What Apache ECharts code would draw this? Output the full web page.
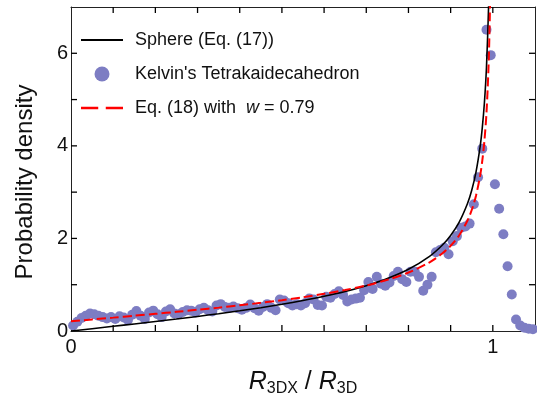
<!DOCTYPE html>
<html>
<head>
<meta charset="utf-8">
<script src="https://cdn.jsdelivr.net/npm/echarts@6/dist/echarts.min.js"></script>
<style>
  html, body { margin: 0; padding: 0; background: #fff; }
  #chart { width: 537px; height: 402px; }
</style>
</head>
<body>
<div id="chart"></div>
<script>
// Histogram of normalised section radii for the Kelvin cell (bin centres)
const kelvinX = [
  0.005, 0.015, 0.025, 0.035, 0.045, 0.055, 0.065, 0.075, 0.085, 0.095,
  0.105, 0.115, 0.125, 0.135, 0.145, 0.155, 0.165, 0.175, 0.185, 0.195,
  0.205, 0.215, 0.225, 0.235, 0.245, 0.255, 0.265, 0.275, 0.285, 0.295,
  0.305, 0.315, 0.325, 0.335, 0.345, 0.355, 0.365, 0.375, 0.385, 0.395,
  0.405, 0.415, 0.425, 0.435, 0.445, 0.455, 0.465, 0.475, 0.485, 0.495,
  0.505, 0.515, 0.525, 0.535, 0.545, 0.555, 0.565, 0.575, 0.585, 0.595,
  0.605, 0.615, 0.625, 0.635, 0.645, 0.655, 0.665, 0.675, 0.685, 0.695,
  0.705, 0.715, 0.725, 0.735, 0.745, 0.755, 0.765, 0.775, 0.785, 0.795,
  0.805, 0.815, 0.825, 0.835, 0.845, 0.855, 0.865, 0.875, 0.885, 0.895,
  0.905, 0.915, 0.925, 0.935, 0.945, 0.955, 0.965, 0.975, 0.985, 0.995,
  1.005, 1.015, 1.025, 1.035, 1.045, 1.055, 1.065, 1.075, 1.085, 1.095
];
const kelvinY = [
  0.12, 0.20, 0.28, 0.33, 0.38, 0.36, 0.33, 0.30, 0.27, 0.30,
  0.26, 0.32, 0.29, 0.24, 0.35, 0.43, 0.33, 0.26, 0.40, 0.44,
  0.36, 0.30, 0.42, 0.47, 0.38, 0.36, 0.41, 0.45, 0.44, 0.40,
  0.47, 0.50, 0.45, 0.42, 0.55, 0.58, 0.52, 0.50, 0.53, 0.49,
  0.46, 0.50, 0.57, 0.49, 0.44, 0.52, 0.58, 0.50, 0.45, 0.68,
  0.66, 0.60, 0.55, 0.58, 0.55, 0.60, 0.70, 0.68, 0.56, 0.55,
  0.74, 0.72, 0.80, 0.86, 0.78, 0.64, 0.68, 0.70, 0.72, 0.88,
  1.06, 0.91, 1.17, 1.02, 0.98, 1.05, 1.19, 1.28, 1.12, 1.06,
  1.28, 1.28, 1.17, 0.87, 1.00, 1.17, 1.70, 1.75, 1.80, 1.66,
  1.94, 2.05, 2.23, 2.26, 2.32, 2.74, 3.32, 3.94, 6.51, 5.96,
  3.17, 2.64, 2.09, 1.40, 0.79, 0.25, 0.12, 0.07, 0.05, 0.04
];

// Sphere, Eq. (17)
const sphereX = [0, 0.05, 0.1, 0.15, 0.2, 0.25, 0.3, 0.35, 0.4, 0.45, 0.5, 0.55, 0.6, 0.65,
  0.7, 0.75, 0.8, 0.85, 0.88, 0.9, 0.92, 0.94, 0.95, 0.96, 0.97, 0.975, 0.98, 0.985, 0.99, 0.992];
const sphereY = [0, 0.050, 0.101, 0.152, 0.204, 0.258, 0.315, 0.374, 0.436, 0.504, 0.577, 0.659, 0.750, 0.855,
  0.980, 1.134, 1.333, 1.614, 1.853, 2.065, 2.347, 2.755, 3.042, 3.429, 3.990, 4.388, 4.925, 5.704, 7.018, 7.84];

// Eq. (18) with w = 0.79
const eq18X = [0, 0.05, 0.1, 0.15, 0.2, 0.25, 0.3, 0.35, 0.4, 0.45, 0.5, 0.55, 0.6, 0.65,
  0.7, 0.75, 0.8, 0.85, 0.88, 0.9, 0.92, 0.94, 0.95, 0.96, 0.97, 0.975, 0.98, 0.985, 0.99, 0.993, 0.995];
const eq18Y = [0.210, 0.250, 0.289, 0.330, 0.371, 0.414, 0.459, 0.505, 0.555, 0.608, 0.666, 0.730, 0.803, 0.886,
  0.984, 1.106, 1.263, 1.485, 1.674, 1.841, 2.064, 2.387, 2.614, 2.919, 3.362, 3.676, 4.101, 4.716, 5.754, 6.85, 8.08];

// Axis ticks and labels
const xTicks = [0.1, 0.2, 0.3, 0.4, 0.5, 0.6, 0.7, 0.8, 0.9, 1.0];
const yTicks = [1, 2, 3, 4, 5, 6];
const xTickLabels = { '0': '0', '1': '1' };
const yTickLabels = { '0': '0', '2': '2', '4': '4', '6': '6' };
const X_MAX = 1.1;
const Y_MAX = 7;

const FONT = "'Liberation Sans', Arial, sans-serif";
const zip = (xs, ys) => xs.map((x, i) => [x, ys[i]]);
const keyOf = v => String(Math.round(v * 1000) / 1000);

const frameLine = () => ({ show: true, onZero: false, lineStyle: { color: '#222', width: 1 } });

// legend glyphs: solid bar and a two-dash bar
const solidIcon = 'path://M0,0H42V2H0Z';
const dashIcon = 'path://M0,0H16V2.2H0Z M23,0H39V2.2H23Z';

const chart = echarts.init(document.getElementById('chart'));
chart.setOption({
  animation: false,
  backgroundColor: '#fff',
  grid: { left: 71, right: 2, top: 7, bottom: 64 },
  legend: {
    orient: 'vertical',
    left: 76,
    top: 25,
    itemWidth: 42,
    itemHeight: 15,
    itemGap: 14,
    textStyle: {
      fontFamily: FONT, fontSize: 18, color: '#111', lineHeight: 20, padding: [0, 0, 0, 7],
      rich: {
        a: { fontFamily: FONT, fontSize: 18, color: '#111' },
        i: { fontFamily: FONT, fontSize: 18, fontStyle: 'italic', color: '#111' }
      }
    },
    formatter: name => name === 'Eq18' ? '{a|Eq. (18) with  }{i|w}{a| = 0.79}' : name,
    data: [
      { name: 'Sphere (Eq. (17))', icon: solidIcon },
      { name: "Kelvin's Tetrakaidecahedron", icon: 'circle' },
      { name: 'Eq18', icon: dashIcon }
    ]
  },
  xAxis: [
    {
      type: 'value', min: 0, max: X_MAX, interval: 0.1, position: 'bottom',
      axisLine: frameLine(), axisTick: { show: false }, splitLine: { show: false },
      axisLabel: {
        fontFamily: FONT, fontSize: 20, color: '#111', margin: 6,
        showMinLabel: true, showMaxLabel: false,
        formatter: v => xTickLabels[keyOf(v)] || ''
      },
      name: '{i|R}{s|3DX}{n| / }{i|R}{s|3D}',
      nameLocation: 'middle',
      nameGap: 34,
      nameTextStyle: {
        rich: {
          i: { fontFamily: FONT, fontSize: 25, fontStyle: 'italic', color: '#111', lineHeight: 30, verticalAlign: 'bottom' },
          n: { fontFamily: FONT, fontSize: 25, color: '#111', lineHeight: 30, verticalAlign: 'bottom' },
          s: { fontFamily: FONT, fontSize: 16, color: '#111', lineHeight: 16, verticalAlign: 'bottom', padding: [0, 0, -2, 0] }
        }
      }
    },
    {
      type: 'value', min: 0, max: X_MAX, interval: 0.1, position: 'top',
      axisLine: frameLine(), axisTick: { show: false }, axisLabel: { show: false }, splitLine: { show: false }
    }
  ],
  yAxis: [
    {
      type: 'value', min: 0, max: Y_MAX, interval: 1, position: 'left',
      axisLine: frameLine(), axisTick: { show: false }, splitLine: { show: false },
      axisLabel: {
        fontFamily: FONT, fontSize: 20, color: '#111', margin: 3,
        formatter: v => yTickLabels[keyOf(v)] || ''
      },
      name: 'Probability density',
      nameLocation: 'middle',
      nameGap: 34,
      nameTextStyle: { fontFamily: FONT, fontSize: 24, color: '#111', padding: [0, 26, 0, 0] }
    },
    {
      type: 'value', min: 0, max: Y_MAX, interval: 1, position: 'right',
      axisLine: frameLine(), axisTick: { show: false }, axisLabel: { show: false }, splitLine: { show: false }
    }
  ],
  series: [
    {
      name: "Kelvin's Tetrakaidecahedron",
      type: 'scatter',
      data: zip(kelvinX, kelvinY),
      symbol: 'circle',
      symbolSize: 10,
      clip: true,
      itemStyle: { color: '#7d7dc3', opacity: 1 },
      z: 2
    },
    {
      name: 'Sphere (Eq. (17))',
      type: 'line',
      data: zip(sphereX, sphereY),
      smooth: 0.3,
      symbol: 'none',
      clip: true,
      lineStyle: { color: '#000', width: 1.6 },
      itemStyle: { color: '#000' },
      z: 3
    },
    {
      name: 'Eq18',
      type: 'line',
      data: zip(eq18X, eq18Y),
      smooth: 0.3,
      symbol: 'none',
      clip: true,
      lineStyle: { color: '#ff0000', width: 2, type: [9, 4] },
      itemStyle: { color: '#ff0000' },
      z: 4
    }
  ]
});

// Inward tick marks on all four sides of the frame, placed through the chart's own scales
const TICK_LEN = 6;
const toPx = (x, y) => chart.convertToPixel({ seriesIndex: 0 }, [x, y]);
const tickSegs = [];
xTicks.forEach(v => {
  const b = toPx(v, 0);
  const t = toPx(v, Y_MAX);
  tickSegs.push([b[0], b[1], b[0], b[1] - TICK_LEN]);
  tickSegs.push([t[0], t[1], t[0], t[1] + TICK_LEN]);
});
yTicks.forEach(v => {
  const l = toPx(0, v);
  const r = toPx(X_MAX, v);
  tickSegs.push([l[0], l[1], l[0] + TICK_LEN, l[1]]);
  tickSegs.push([r[0], r[1], r[0] - TICK_LEN, r[1]]);
});
chart.setOption({
  graphic: {
    elements: tickSegs.map(s => ({
      type: 'line',
      silent: true,
      z: 100,
      shape: { x1: s[0], y1: s[1], x2: s[2], y2: s[3] },
      style: { stroke: '#000', lineWidth: 1.3 }
    }))
  }
});
</script>
</body>
</html>
